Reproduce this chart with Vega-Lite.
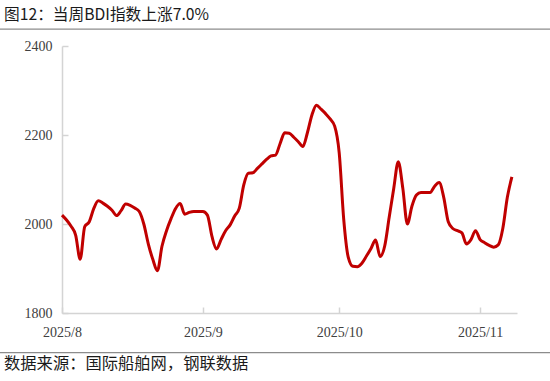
{
  "$schema": "https://vega.github.io/schema/vega-lite/v6.json",
  "width": 455,
  "height": 267,
  "autosize": {"type": "none"},
  "padding": {"left": 62, "top": 46, "right": 33, "bottom": 68},
  "background": "white",
  "config": {"view": {"stroke": null}},
  "resolve": {"axis": {"x": "independent", "y": "independent"}},
  "layer": [
    {
      "data": {"values": [
        {"date": "2025-08-01", "bdi": 2020}, {"date": "2025-08-02", "bdi": 2009}, {"date": "2025-08-03", "bdi": 1995},
        {"date": "2025-08-04", "bdi": 1975}, {"date": "2025-08-05", "bdi": 1921}, {"date": "2025-08-06", "bdi": 1994},
        {"date": "2025-08-07", "bdi": 2005}, {"date": "2025-08-08", "bdi": 2035}, {"date": "2025-08-09", "bdi": 2052},
        {"date": "2025-08-10", "bdi": 2047}, {"date": "2025-08-11", "bdi": 2040}, {"date": "2025-08-12", "bdi": 2031},
        {"date": "2025-08-13", "bdi": 2019}, {"date": "2025-08-14", "bdi": 2030}, {"date": "2025-08-15", "bdi": 2045},
        {"date": "2025-08-16", "bdi": 2042}, {"date": "2025-08-17", "bdi": 2036}, {"date": "2025-08-18", "bdi": 2028},
        {"date": "2025-08-19", "bdi": 2000}, {"date": "2025-08-20", "bdi": 1955}, {"date": "2025-08-21", "bdi": 1920},
        {"date": "2025-08-22", "bdi": 1895}, {"date": "2025-08-23", "bdi": 1950}, {"date": "2025-08-24", "bdi": 1985},
        {"date": "2025-08-25", "bdi": 2012}, {"date": "2025-08-26", "bdi": 2035}, {"date": "2025-08-27", "bdi": 2046},
        {"date": "2025-08-28", "bdi": 2022}, {"date": "2025-08-29", "bdi": 2026}, {"date": "2025-08-30", "bdi": 2028},
        {"date": "2025-08-31", "bdi": 2028}, {"date": "2025-09-01", "bdi": 2028}, {"date": "2025-09-02", "bdi": 2020},
        {"date": "2025-09-03", "bdi": 1972}, {"date": "2025-09-04", "bdi": 1944}, {"date": "2025-09-05", "bdi": 1965},
        {"date": "2025-09-06", "bdi": 1985}, {"date": "2025-09-07", "bdi": 1998}, {"date": "2025-09-08", "bdi": 2018},
        {"date": "2025-09-09", "bdi": 2035}, {"date": "2025-09-10", "bdi": 2088}, {"date": "2025-09-11", "bdi": 2114},
        {"date": "2025-09-12", "bdi": 2115}, {"date": "2025-09-13", "bdi": 2125}, {"date": "2025-09-14", "bdi": 2135},
        {"date": "2025-09-15", "bdi": 2145}, {"date": "2025-09-16", "bdi": 2153}, {"date": "2025-09-17", "bdi": 2155},
        {"date": "2025-09-18", "bdi": 2181}, {"date": "2025-09-19", "bdi": 2205}, {"date": "2025-09-20", "bdi": 2204},
        {"date": "2025-09-21", "bdi": 2195}, {"date": "2025-09-22", "bdi": 2185}, {"date": "2025-09-23", "bdi": 2174},
        {"date": "2025-09-24", "bdi": 2205}, {"date": "2025-09-25", "bdi": 2245}, {"date": "2025-09-26", "bdi": 2267},
        {"date": "2025-09-27", "bdi": 2258}, {"date": "2025-09-28", "bdi": 2248}, {"date": "2025-09-29", "bdi": 2236},
        {"date": "2025-09-30", "bdi": 2220}, {"date": "2025-10-01", "bdi": 2160}, {"date": "2025-10-02", "bdi": 2010},
        {"date": "2025-10-03", "bdi": 1925}, {"date": "2025-10-04", "bdi": 1905}, {"date": "2025-10-05", "bdi": 1904},
        {"date": "2025-10-06", "bdi": 1912}, {"date": "2025-10-07", "bdi": 1928}, {"date": "2025-10-08", "bdi": 1945},
        {"date": "2025-10-09", "bdi": 1964}, {"date": "2025-10-10", "bdi": 1927}, {"date": "2025-10-11", "bdi": 1950},
        {"date": "2025-10-12", "bdi": 2015}, {"date": "2025-10-13", "bdi": 2080}, {"date": "2025-10-14", "bdi": 2140},
        {"date": "2025-10-15", "bdi": 2080}, {"date": "2025-10-16", "bdi": 2000}, {"date": "2025-10-17", "bdi": 2040},
        {"date": "2025-10-18", "bdi": 2065}, {"date": "2025-10-19", "bdi": 2071}, {"date": "2025-10-20", "bdi": 2071},
        {"date": "2025-10-21", "bdi": 2071}, {"date": "2025-10-22", "bdi": 2085}, {"date": "2025-10-23", "bdi": 2093},
        {"date": "2025-10-24", "bdi": 2060}, {"date": "2025-10-25", "bdi": 2005}, {"date": "2025-10-26", "bdi": 1990},
        {"date": "2025-10-27", "bdi": 1985}, {"date": "2025-10-28", "bdi": 1980}, {"date": "2025-10-29", "bdi": 1955},
        {"date": "2025-10-30", "bdi": 1965}, {"date": "2025-10-31", "bdi": 1985}, {"date": "2025-11-01", "bdi": 1965},
        {"date": "2025-11-02", "bdi": 1958}, {"date": "2025-11-03", "bdi": 1952}, {"date": "2025-11-04", "bdi": 1948},
        {"date": "2025-11-05", "bdi": 1953}, {"date": "2025-11-06", "bdi": 1990}, {"date": "2025-11-07", "bdi": 2060},
        {"date": "2025-11-08", "bdi": 2106}
      ]},
      "mark": {"type": "line", "color": "#C00000", "strokeWidth": 3, "interpolate": "monotone"},
      "encoding": {
        "x": {
          "field": "date", "type": "temporal",
          "scale": {"type": "utc", "domain": [{"year": 2025, "month": 8, "date": 1, "utc": true}, {"year": 2025, "month": 11, "date": 9, "hours": 3, "utc": true}]},
          "axis": {
            "title": null, "grid": false,
            "values": [{"year": 2025, "month": 8, "date": 1, "utc": true}, {"year": 2025, "month": 9, "date": 1, "utc": true}, {"year": 2025, "month": 10, "date": 1, "utc": true}, {"year": 2025, "month": 11, "date": 1, "utc": true}],
            "labelExpr": "utcFormat(datum.value, '%Y/%-m')",
            "labelFont": "Liberation Serif", "labelFontSize": 14, "labelColor": "#404040",
            "labelFlush": false, "labelOverlap": false, "labelPadding": 18,
            "domainColor": "#d4d4d4", "domainWidth": 1.5, "tickColor": "#d4d4d4", "tickWidth": 1.5, "tickSize": -6
          }
        },
        "y": {
          "field": "bdi", "type": "quantitative",
          "scale": {"domain": [1800, 2400], "zero": false, "nice": false},
          "axis": {
            "title": null, "grid": false, "values": [1800, 2000, 2200, 2400], "format": "d",
            "labelFont": "Liberation Serif", "labelFontSize": 14, "labelColor": "#404040",
            "labelFlush": false, "labelOverlap": false, "labelPadding": 16,
            "domainColor": "#d4d4d4", "domainWidth": 1.5, "tickColor": "#d4d4d4", "tickWidth": 1.5, "tickSize": -6
          }
        }
      }
    },
    {
      "data": {"values": [{}]},
      "mark": {"type": "rule", "color": "#8c8c8c", "strokeWidth": 1.2},
      "encoding": {
        "x": {"datum": {"year": 2025, "month": 7, "date": 18, "utc": true}, "type": "temporal", "axis": null},
        "x2": {"datum": {"year": 2025, "month": 11, "date": 17, "utc": true}},
        "y": {"datum": 2438, "type": "quantitative", "axis": null}
      }
    },
    {
      "data": {"values": [{}]},
      "mark": {"type": "rule", "color": "#8c8c8c", "strokeWidth": 1.2},
      "encoding": {
        "x": {"datum": {"year": 2025, "month": 7, "date": 18, "utc": true}, "type": "temporal", "axis": null},
        "x2": {"datum": {"year": 2025, "month": 11, "date": 17, "utc": true}},
        "y": {"datum": 1711, "type": "quantitative", "axis": null}
      }
    },
    {
      "data": {"values": [{}]},
      "mark": {"type": "text", "align": "left", "baseline": "middle", "font": "Noto Sans CJK SC", "fontSize": 15.7, "color": "#1a1a1a"},
      "encoding": {
        "x": {"datum": {"year": 2025, "month": 7, "date": 19, "hours": 6, "utc": true}, "type": "temporal", "axis": null},
        "y": {"datum": 2470, "type": "quantitative", "axis": null},
        "text": {"value": "图12：当周BDI指数上涨7.0%"}
      }
    },
    {
      "data": {"values": [{}]},
      "mark": {"type": "text", "align": "left", "baseline": "middle", "font": "Noto Sans CJK SC", "fontSize": 16.3, "color": "#1a1a1a"},
      "encoding": {
        "x": {"datum": {"year": 2025, "month": 7, "date": 19, "hours": 6, "utc": true}, "type": "temporal", "axis": null},
        "y": {"datum": 1686, "type": "quantitative", "axis": null},
        "text": {"value": "数据来源：国际船舶网，钢联数据"}
      }
    }
  ]
}
